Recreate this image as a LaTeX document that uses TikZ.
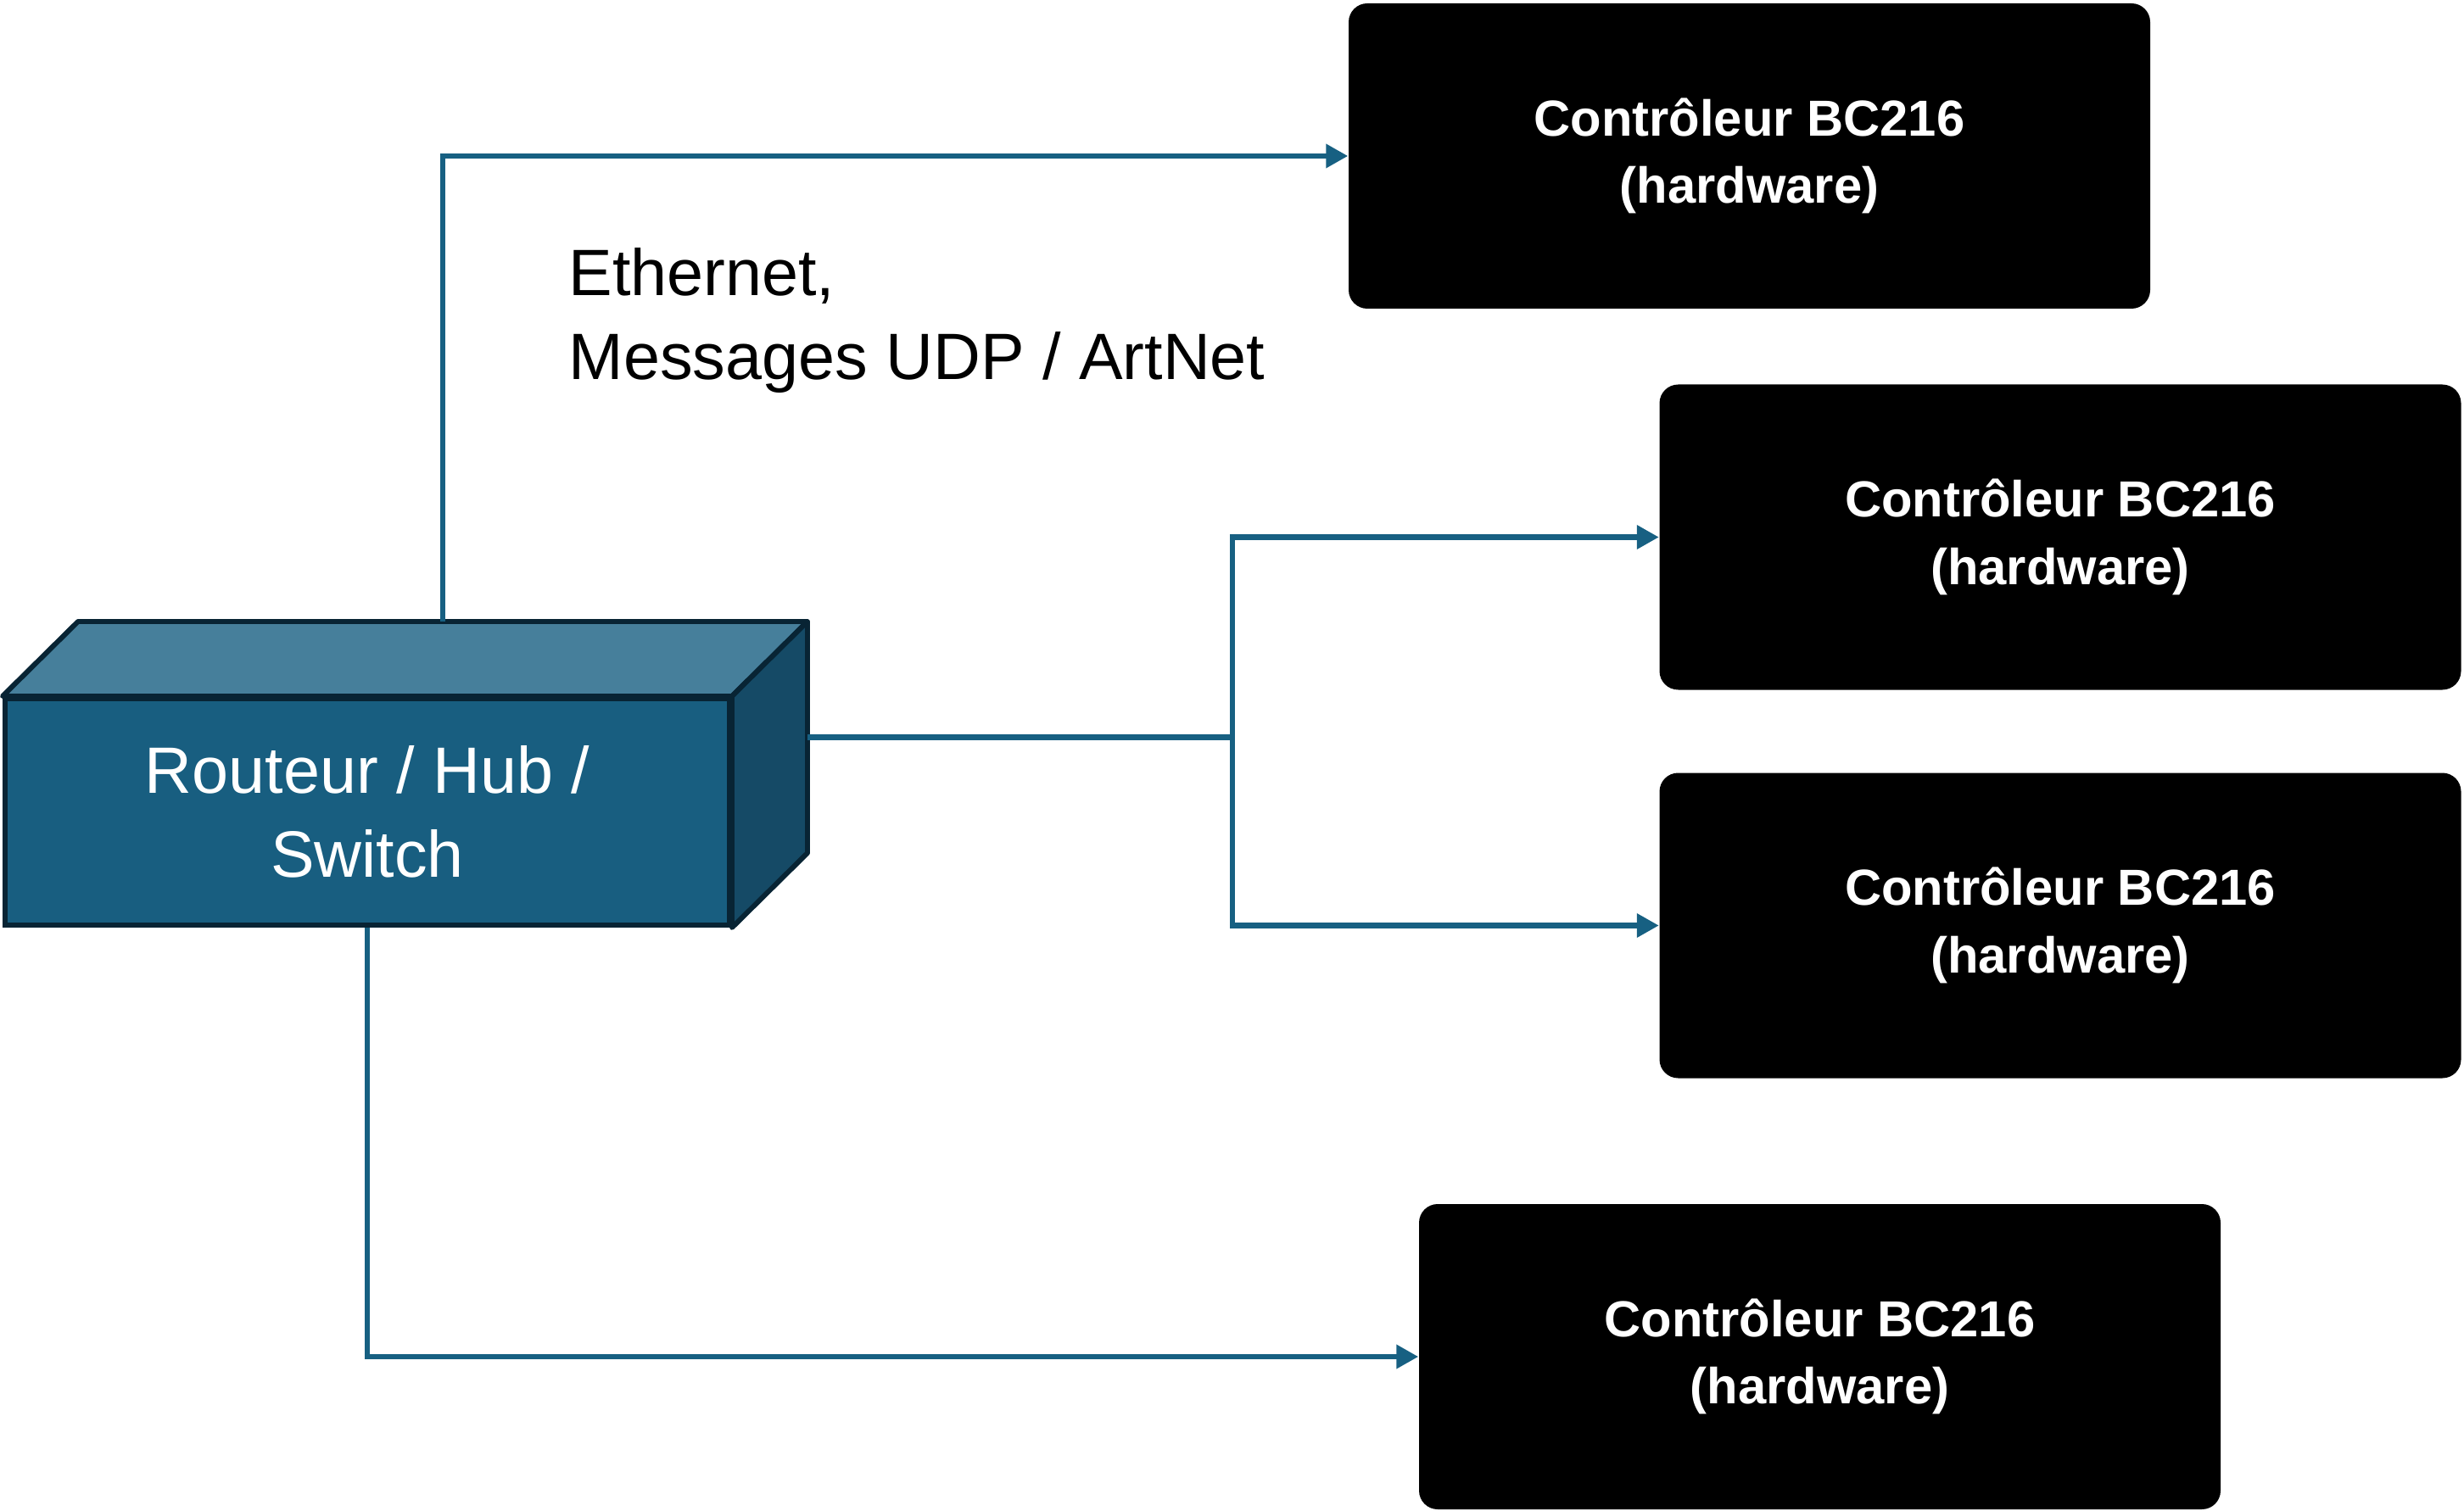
\documentclass[tikz,border=0pt]{standalone}
\usepackage{fontspec}
\setmainfont{Liberation Sans}
\usetikzlibrary{arrows.meta,calc}

\definecolor{swfront}{RGB}{24,94,128}
\definecolor{swtopc}{RGB}{70,127,155}
\definecolor{swsidec}{RGB}{21,74,102}
\definecolor{swedge}{RGB}{8,36,52}
\definecolor{linkc}{RGB}{23,96,130}

\tikzset{
  ctrl/.style={fill=black, rounded corners=0.22cm, minimum width=9.45cm,
    minimum height=3.6cm, text=white, align=center, inner sep=0pt,
    font=\fontsize{17}{22}\selectfont\bfseries},
  line/.style={draw=linkc, line width=1.9pt},
  link/.style={line, -{Triangle[length=0.26cm,width=0.27cm]}},
}

\begin{document}
\begin{tikzpicture}
    % --- НАСТРОЙКИ ---
    \def\Dx{0.89}  % Сдвиг задней грани по x
    \def\Dy{0.88}  % Сдвиг задней грани по y

    \useasboundingbox (0,0) rectangle (29.05,-17.82);

    % --- КОММУТАТОР ---
    % Передняя грань
    \node[fill=swfront, draw=swedge, line width=1.7pt, minimum width=8.54cm,
      minimum height=2.67cm, text=white, align=center, inner sep=0pt,
      font=\fontsize{22}{28}\selectfont] (sw) at (4.33,-9.575)
      {Routeur / Hub /\\Switch};
    % Верхняя и боковая грани
    \draw[fill=swtopc, draw=swedge, line width=1.7pt, line join=round]
      (sw.north west) -- ++(\Dx,\Dy) -- ($(sw.north east)+(\Dx,\Dy)$)
      -- (sw.north east) -- cycle;
    \draw[fill=swsidec, draw=swedge, line width=1.7pt, line join=round]
      (sw.north east) -- ++(\Dx,\Dy) -- ($(sw.south east)+(\Dx,\Dy)$)
      -- (sw.south east) -- cycle;
    % Точки подключения на задних рёбрах
    \coordinate (swtop) at ($(sw.north)+(\Dx,\Dy)$);
    \coordinate (swside) at ($(sw.east)+(\Dx,\Dy)$);

    % --- КОНТРОЛЛЕРЫ ---
    \node[ctrl] (c1) at (20.625,-1.84)  {Contrôleur BC216\\[0.02cm](hardware)};
    \node[ctrl] (c2) at (24.29,-6.335)  {Contrôleur BC216\\[0.02cm](hardware)};
    \node[ctrl] (c3) at (24.29,-10.915) {Contrôleur BC216\\[0.02cm](hardware)};
    \node[ctrl] (c4) at (21.455,-16.0)  {Contrôleur BC216\\[0.02cm](hardware)};

    % Подпись
    \node[anchor=north west, align=left, inner sep=0pt,
      font=\fontsize{22}{28}\selectfont] (proto) at (6.70,-2.92)
      {Ethernet,\\Messages UDP / ArtNet};

    % --- СОЕДИНЕНИЯ ---
    \coordinate (split) at (14.53,-8.695);
    \draw[link] (swtop) |- (c1.west);
    \draw[line] (swside) -- (split);
    \draw[link] (split) |- (c2.west);
    \draw[link] (split) |- (c3.west);
    \draw[link] (sw.south) |- (c4.west);

\end{tikzpicture}
\end{document}
